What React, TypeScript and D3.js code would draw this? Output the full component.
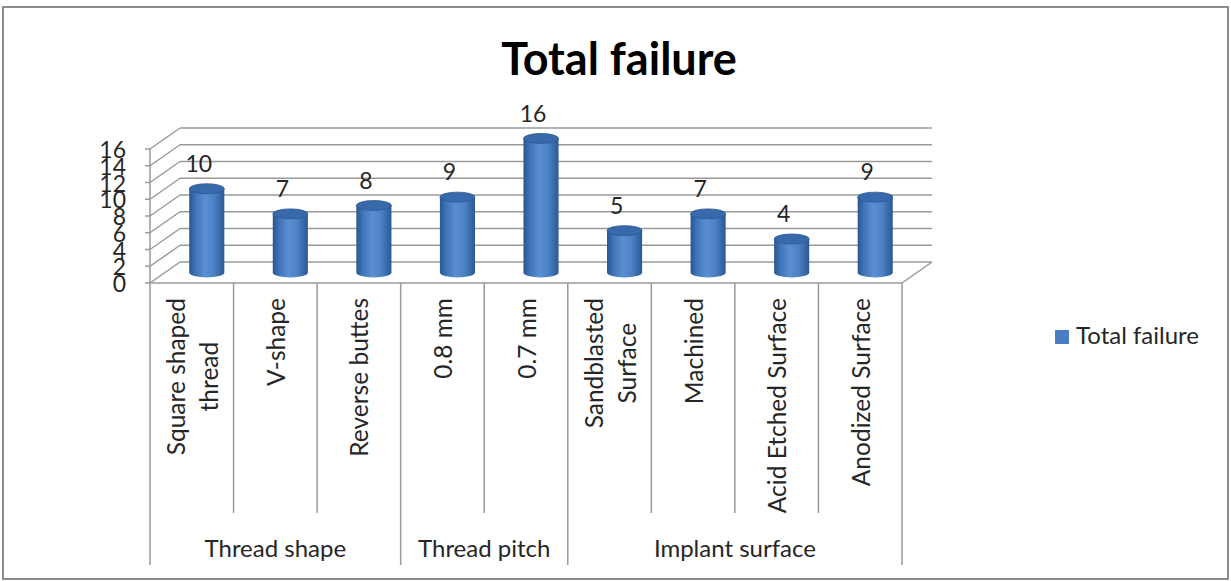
import React from "react";
import * as d3 from "d3";

// ── Data ──────────────────────────────────────────────────────────────
const categories = [
    "Square shaped\nthread", "V-shape", "Reverse buttes",
    "0.8 mm", "0.7 mm",
    "Sandblasted\nSurface", "Machined", "Acid Etched Surface", "Anodized Surface",
];
const values = [10, 7, 8, 9, 16, 5, 7, 4, 9];
const groups = ["Thread shape", "Thread pitch", "Implant surface"];
const groupSizes = [3, 2, 4];
const yTicks = [0, 2, 4, 6, 8, 10, 12, 14, 16];
const seriesName = "Total failure";

const W = 1231, H = 581;
const FONT = "Lato, 'Open Sans', sans-serif";
const GRID = "#9a9a9a";
const TEXT = "#262626";
const CAT_SIZE = 24.5;

// 3D depth offset of the back wall
const DX = 30, DY = -21;

// text width via canvas, so wrapped label lines can be centred on each other
let ctx: CanvasRenderingContext2D | null = null;
const textWidth = (s: string, size: number) => {
    if (!ctx) ctx = document.createElement("canvas").getContext("2d");
    if (!ctx) return s.length * size * 0.5;
    ctx.font = `${size}px Lato, 'Open Sans', sans-serif`;
    return ctx.measureText(s).width;
};

export default function App() {
    const x = d3.scaleBand<number>()
        .domain(d3.range(categories.length))
        .range([150, 902]);
    const y = d3.scaleLinear().domain([0, 16]).range([283, 149]);

    const bw = x.bandwidth();
    const barW = bw * 0.42;
    const ry = 5;
    const x0 = 150, x1 = 902;

    // group boundaries (in category indices)
    const bounds = [0, ...d3.cumsum(groupSizes)];

    return (
        <div style={{ position: "fixed", left: 0, top: 0 }}>
            <svg width={W} height={H} style={{ display: "block", background: "#fff" }}>
                <defs>
                    <linearGradient id="cyl" x1="0" x2="1" y1="0" y2="0">
                        <stop offset="0%" stopColor="#2a5690" />
                        <stop offset="18%" stopColor="#3f74b8" />
                        <stop offset="45%" stopColor="#5a8fd2" />
                        <stop offset="70%" stopColor="#4c82c6" />
                        <stop offset="100%" stopColor="#2b5894" />
                    </linearGradient>
                </defs>

                {/* outer frame */}
                <rect x={3} y={7} width={1225} height={572} fill="#fff" stroke="#8c8c8c" strokeWidth={2} />

                {/* title */}
                <text x={619} y={75} textAnchor="middle" fontFamily={FONT} fontWeight="bold"
                    fontSize={45} fill="#000">{seriesName}</text>

                {/* side-wall diagonals + back-wall gridlines */}
                {yTicks.map(t => (
                    <g key={t}>
                        <line x1={x0} y1={y(t)} x2={x0 + DX} y2={y(t) + DY} stroke={GRID} strokeWidth={1.5} />
                        <line x1={x0 + DX} y1={y(t) + DY} x2={x1 + DX} y2={y(t) + DY} stroke={GRID} strokeWidth={1.5} />
                    </g>
                ))}
                {/* floor right edge */}
                <line x1={x1} y1={y(0)} x2={x1 + DX} y2={y(0) + DY} stroke={GRID} strokeWidth={1.5} />

                {/* value axis */}
                <line x1={x0} y1={y(16)} x2={x0} y2={y(0)} stroke={GRID} strokeWidth={1.5} />
                {yTicks.map(t => (
                    <g key={t}>
                        <line x1={x0 - 5} y1={y(t)} x2={x0} y2={y(t)} stroke={GRID} strokeWidth={1.5} />
                        <text x={126} y={y(t)} dominantBaseline="central" textAnchor="end"
                            fontFamily={FONT} fontSize={23} fill={TEXT}>{t}</text>
                    </g>
                ))}

                {/* bars (cylinders) */}
                {values.map((v, i) => {
                    const cx = (x(i) as number) + bw / 2 + DX / 2;
                    const yb = y(0) + DY / 2;
                    const yt = y(v) + DY / 2;
                    const l = cx - barW / 2, r = cx + barW / 2;
                    const body = `M${l},${yt} L${l},${yb} A${barW / 2},${ry} 0 0 0 ${r},${yb} L${r},${yt} Z`;
                    return (
                        <g key={i}>
                            <path d={body} fill="url(#cyl)" />
                            <ellipse cx={cx} cy={yt} rx={barW / 2} ry={ry} fill="#386aab" stroke="#2c5994" strokeWidth={0.8} />
                            <text x={cx - 8} y={yt - 17} textAnchor="middle" fontFamily={FONT}
                                fontSize={23} fill={TEXT}>{v}</text>
                        </g>
                    );
                })}

                {/* category axis */}
                <line x1={x0} y1={y(0)} x2={x1} y2={y(0)} stroke={GRID} strokeWidth={1.5} />
                {d3.range(categories.length + 1).map(i => {
                    const xx = i < categories.length ? (x(i) as number) : x1;
                    const isGroup = bounds.includes(i);
                    return (
                        <line key={i} x1={xx} y1={y(0)} x2={xx} y2={isGroup ? 565 : 513}
                            stroke={GRID} strokeWidth={1.5} />
                    );
                })}
                {categories.map((c, i) => {
                    const lines = c.split("\n");
                    const cx = (x(i) as number) + bw / 2;
                    const lh = 33;
                    const maxW = d3.max(lines, ln => textWidth(ln, CAT_SIZE)) as number;
                    return (
                        <g key={i} transform={`translate(${cx},298) rotate(-90)`}>
                            {lines.map((ln, k) => (
                                <text key={k} x={-maxW / 2} y={(k - (lines.length - 1) / 2) * lh}
                                    dominantBaseline="central" textAnchor="middle"
                                    fontFamily={FONT} fontSize={CAT_SIZE} fill={TEXT}>{ln}</text>
                            ))}
                        </g>
                    );
                })}
                {groups.map((g, gi) => {
                    const a = x(bounds[gi]) as number;
                    const b = bounds[gi + 1] < categories.length ? (x(bounds[gi + 1]) as number) : x1;
                    return (
                        <text key={g} x={(a + b) / 2} y={557} textAnchor="middle"
                            fontFamily={FONT} fontSize={24} fill={TEXT}>{g}</text>
                    );
                })}

                {/* legend */}
                <rect x={1055} y={330} width={14} height={14} fill="#4a7ec2" />
                <text x={1076} y={344} fontFamily={FONT} fontSize={24} fill={TEXT}>{seriesName}</text>
            </svg>
        </div>
    );
}
